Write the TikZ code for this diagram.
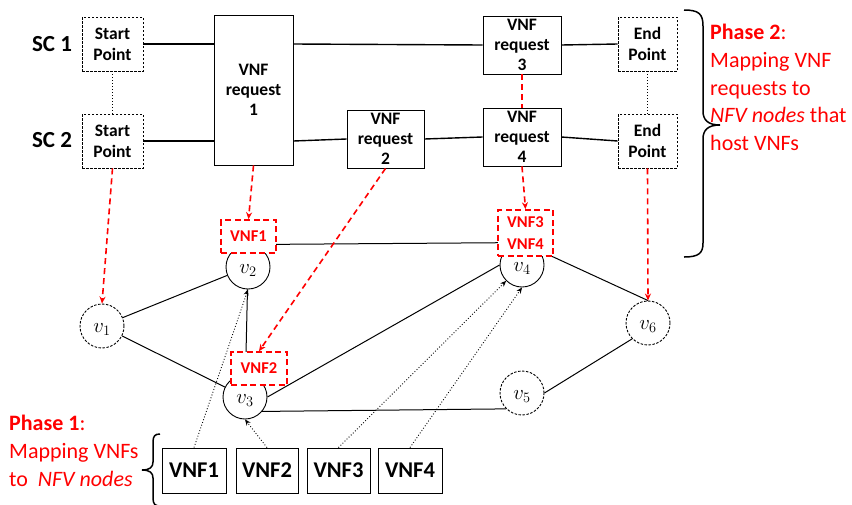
\documentclass[tikz,border=0pt]{standalone}
\usepackage{fontspec}
\setmainfont{Carlito}
\usetikzlibrary{arrows.meta}
\definecolor{myred}{RGB}{255,0,0}
\begin{document}
\begin{tikzpicture}[x=1pt,y=-1pt,
  box/.style={draw,line width=0.9pt,fill=white,inner sep=0pt,align=center,font=\bfseries\fontsize{17.5}{20}\selectfont},
  dbox/.style={box,dashed,dash pattern=on 2.5pt off 1.5pt,font=\bfseries\fontsize{17.5}{21}\selectfont},
  rbox/.style={draw=myred,dashed,dash pattern=on 6pt off 3.5pt,line width=1.6pt,fill=white,inner sep=0pt,align=center,text=myred,font=\bfseries\fontsize{16.5}{22}\selectfont},
  vbox/.style={draw,line width=0.9pt,fill=white,inner sep=0pt,font=\bfseries\fontsize{22.5}{26}\selectfont},
  vnode/.style={circle,draw,line width=0.9pt,minimum size=44pt,inner sep=0pt,text height=16pt,text depth=3pt,font=\fontsize{21}{22}\selectfont},
  dvnode/.style={vnode,dashed,dash pattern=on 2.5pt off 1.5pt},
  chain/.style={line width=1.4pt},
  edge/.style={line width=1pt},
  redarr/.style={draw=myred,dashed,dash pattern=on 6pt off 4pt,line width=1.6pt,-{Stealth[length=7pt,width=6pt]}},
  redline/.style={draw=myred,dashed,dash pattern=on 6pt off 4pt,line width=1.6pt},
  dotarr/.style={dotted,line width=0.9pt,-{Stealth[length=6pt,width=5pt]}},
  phase/.style={text=myred,align=left,inner sep=0pt,font=\fontsize{22}{27.7}\selectfont},
  sclabel/.style={font=\bfseries\fontsize{23}{26}\selectfont}
]
\useasboundingbox (0,0) rectangle (852,504);

% labels
\node[sclabel] (sc1) at (52,44) {SC 1};
\node[sclabel] (sc2) at (52,140) {SC 2};

% service chain boxes
\node[dbox,minimum width=61pt,minimum height=54pt] (sp1) at (112.5,44) {Start\\Point};
\node[dbox,minimum width=61pt,minimum height=54pt] (sp2) at (112.5,141) {Start\\Point};
\node[box,minimum width=79pt,minimum height=150pt] (r1) at (253.5,90) {VNF\\request\\1};
\node[box,minimum width=78pt,minimum height=58pt] (r3) at (522,45) {VNF\\request\\3};
\node[box,minimum width=77pt,minimum height=58pt] (r2) at (385.5,139) {VNF\\request\\2};
\node[box,minimum width=78pt,minimum height=58pt] (r4) at (522,137) {VNF\\request\\4};
\node[dbox,minimum width=59pt,minimum height=54pt] (ep1) at (647.5,44) {End\\Point};
\node[dbox,minimum width=59pt,minimum height=54pt] (ep2) at (647.5,141) {End\\Point};

% chain lines
\draw[chain] (sp1.east) -- (sp1.east -| r1.west);
\draw[chain] (sp1.east -| r1.east) -- (r3.west);
\draw[chain] (r3.east) -- (ep1.west);
\draw[chain] (sp2.east) -- (sp2.east -| r1.west);
\draw[chain] (sp2.east -| r1.east) -- (r2.west);
\draw[chain] (r2.east) -- (r4.west);
\draw[chain] (r4.east) -- (ep2.west);
\draw[dotted,line width=1pt] (sp1.south) -- (sp2.north);
\draw[dotted,line width=1pt] (ep1.south) -- (ep2.north);
\draw[redline] (r3.south) -- (r4.north);

% network nodes
\node[dvnode] (v1) at (102,326) {$v_1$};
\node[vnode] (v2) at (248,267) {$v_2$};
\node[vnode] (v3) at (245,397) {$v_3$};
\node[vnode] (v4) at (522,265) {$v_4$};
\node[dvnode] (v5) at (522,393) {$v_5$};
\node[dvnode] (v6) at (648,323) {$v_6$};

% network edges
\draw[edge] (v1) -- (v2);
\draw[edge] (v1) -- (v3);
\draw[edge] (v3) -- (v2);
\draw[edge] (v2.north) -- (v4.north);
\draw[edge] (v3.east) -- (v4.west);
\draw[edge] (v3.-40) -- (v5.225);
\draw[edge] (v4.north) -- (v6.north);
\draw[edge] (v5.east) -- (v6.225);

% hosted VNF boxes
\node[rbox,minimum width=55pt,minimum height=33pt] (f1) at (248.5,236.5) {VNF1};
\node[rbox,minimum width=56pt,minimum height=33pt] (f2) at (259,368.5) {VNF2};
\node[rbox,minimum width=55pt,minimum height=46pt] (f34) at (525.5,233) {VNF3\\VNF4};

% phase 2 arrows
\draw[redarr] (sp2.south) -- (v1.north);
\draw[redarr] (r1.south) -- (f1.north);
\draw[redarr] (r2.south) -- (f2.north);
\draw[redarr] (r4.south) -- (f34.north);
\draw[redarr] (ep2.south) -- (v6.north);

% bottom VNFs
\node[vbox,minimum width=64pt,minimum height=45pt] (b1) at (194,470.5) {VNF1};
\node[vbox,minimum width=62pt,minimum height=45pt] (b2) at (267,470.5) {VNF2};
\node[vbox,minimum width=63pt,minimum height=45pt] (b3) at (338.5,470.5) {VNF3};
\node[vbox,minimum width=64pt,minimum height=45pt] (b4) at (410,470.5) {VNF4};

% phase 1 arrows
\draw[dotarr] (b1.north) -- (v2.south);
\draw[dotarr] (b2.north) -- (v3.south);
\draw[dotarr] (b3.north) -- (v4.225);
\draw[dotarr] (b4.north) -- (v4.south);

% braces
\draw[line width=1.5pt] (684,10) .. controls (699,10) and (703,14) .. (703,26) -- (703,111)
  .. controls (703,120) and (708,125) .. (720,125) .. controls (708,125) and (703,130) .. (703,139)
  -- (703,243) .. controls (703,253) and (699,257) .. (684,257);
\draw[line width=1.5pt] (160,434) .. controls (155,434) and (153,436) .. (153,442) -- (153,462)
  .. controls (153,467) and (150,470) .. (142,470) .. controls (150,470) and (153,473) .. (153,478)
  -- (153,498) .. controls (153,504) and (155,506) .. (160,506);

% phase texts
\node[phase,anchor=north west] (p2) at (710,24) {\textbf{Phase 2}:\\Mapping VNF\\requests to\\\textit{NFV nodes} that\\host VNFs};
\node[phase,anchor=north west] (p1) at (9,415) {\textbf{Phase 1}:\\Mapping VNFs\\to\ \ \textit{NFV nodes}};
\end{tikzpicture}
\end{document}
